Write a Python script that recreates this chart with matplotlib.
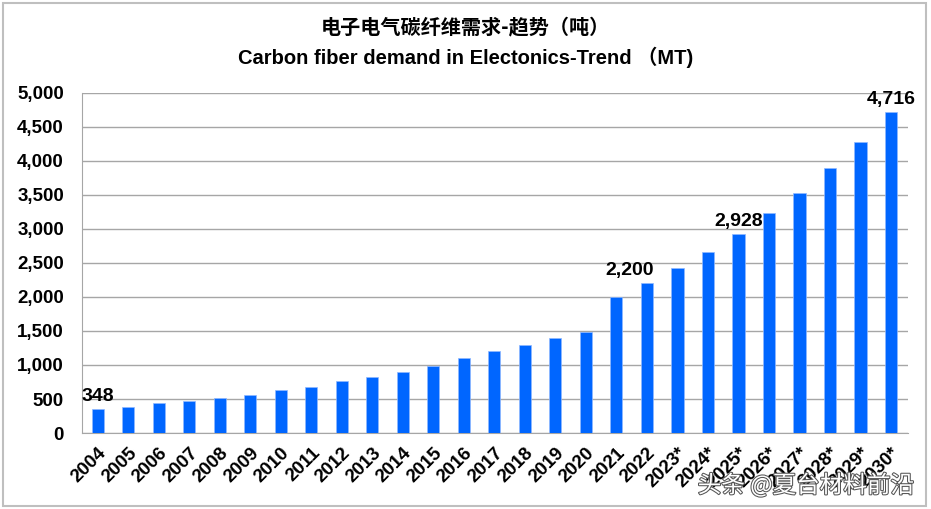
import matplotlib
matplotlib.use("Agg")
import matplotlib.pyplot as plt
import matplotlib.patheffects as pe
from matplotlib.patches import Rectangle
from matplotlib.ticker import FuncFormatter

years = ["2004", "2005", "2006", "2007", "2008", "2009", "2010", "2011", "2012",
         "2013", "2014", "2015", "2016", "2017", "2018", "2019", "2020", "2021",
         "2022", "2023*", "2024*", "2025*", "2026*", "2027*", "2028*", "2029*", "2030*"]
demand = [348, 387, 436, 470, 515, 564, 632, 681, 760,
          825, 900, 990, 1100, 1200, 1300, 1400, 1490, 2005,
          2200, 2422, 2667, 2928, 3230, 3534, 3897, 4285, 4716]
labelled = ["2004", "2022", "2025*", "2030*"]

title_cn = "电子电气碳纤维需求-趋势（吨）"
title_en = "Carbon fiber demand in Electonics-Trend （MT)"
watermark = "头条 @夏台材料前沿"

plt.rcParams["font.family"] = ["Liberation Sans", "Noto Sans CJK SC", "DejaVu Sans"]

fig = plt.figure(figsize=(9.31, 5.09), dpi=100)
ax = fig.add_axes([82 / 931, 1 - 433 / 509, 826 / 931, 340 / 509])

x = range(len(years))
ax.bar(x, demand, width=0.4, color="#0066ff", edgecolor="#8fb8ff", linewidth=0.5, zorder=3)

for i, (yr, v) in enumerate(zip(years, demand)):
    if yr in labelled:
        ax.text(i - (0.55 if yr == "2022" else 0), v + 60, f"{v:,}", ha="center", va="bottom",
                fontsize=14, fontweight="bold", zorder=4)

ax.set_ylim(0, 5000)
ax.set_xlim(-0.52, len(years) - 0.44)
ax.set_yticks(range(0, 5001, 500))
ax.yaxis.set_major_formatter(FuncFormatter(lambda v, p: f"{int(v):,}"))
ax.grid(axis="y", color="#a6a6a6", linewidth=1, zorder=0)
ax.set_xticks(list(x))
ax.set_xticklabels(years, rotation=45, ha="right", rotation_mode="anchor")
ax.tick_params(axis="y", length=0, labelsize=13.5, pad=13)
ax.tick_params(axis="x", length=0, labelsize=13.5, pad=8)
for lab in ax.get_xticklabels() + ax.get_yticklabels():
    lab.set_fontweight("bold")
for s in ["top", "right"]:
    ax.spines[s].set_visible(False)
for s in ["left", "bottom"]:
    ax.spines[s].set_color("#a6a6a6")

fig.text(0.5, 1 - 27 / 509, title_cn, ha="center", va="center", fontsize=14.5,
         fontweight="bold", family=["Noto Sans CJK SC", "DejaVu Sans"])
fig.text(0.5, 1 - 57 / 509, title_en, ha="center", va="center", fontsize=14.5,
         fontweight="bold", family=["Liberation Sans", "Noto Sans CJK SC"])

fig.patches.append(Rectangle((3 / 931, 3 / 509), 923 / 931, 503 / 509, transform=fig.transFigure,
                             fill=False, edgecolor="#bfbfbf", linewidth=1.5))

fig.text(806 / 931, 1 - 485 / 509, watermark, ha="center", va="center", fontsize=17,
         color="white", family=["Noto Sans CJK SC", "DejaVu Sans"],
         path_effects=[pe.withStroke(linewidth=1.5, foreground="#555555")])

fig.savefig("out.png", dpi=100)
